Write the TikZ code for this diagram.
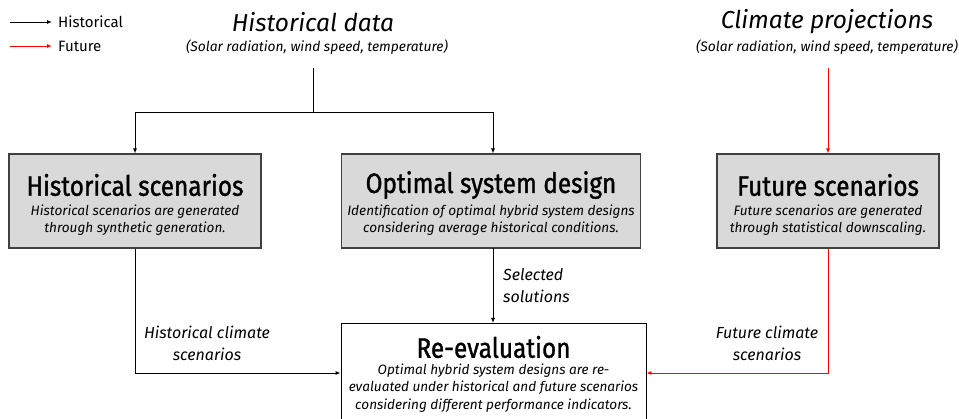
\documentclass[tikz,border=0pt]{standalone}
\usepackage{fontspec}
\setmainfont{Fira Sans}
\newfontfamily\titlefont{Fira Sans}[FakeStretch=0.87,FakeBold=1.2]
\usetikzlibrary{arrows.meta}
\definecolor{boxgray}{HTML}{D9D9D9}
\definecolor{edgegray}{HTML}{404040}
\definecolor{futred}{HTML}{FF0000}
\tikzset{
  greybox/.style={draw=edgegray,line width=1.1pt,fill=boxgray,inner sep=0pt},
  whitebox/.style={draw=black,line width=0.9pt,fill=white,inner sep=0pt},
  conn/.style={line width=0.9pt,-{Latex[length=5pt,width=4pt]}},
  plainline/.style={line width=0.9pt},
  titletxt/.style={font=\titlefont\fontsize{28}{30}\selectfont,inner sep=0pt,anchor=center},
  desctxt/.style={font=\itshape\fontsize{13.6}{17.5}\selectfont,align=center,inner sep=0pt,anchor=center},
  headtxt/.style={font=\itshape\fontsize{24.5}{28}\selectfont,inner sep=0pt,anchor=center},
  subtxt/.style={font=\itshape\fontsize{13.8}{15}\selectfont,inner sep=0pt,anchor=center},
  labtxt/.style={font=\itshape\fontsize{16}{22}\selectfont,align=center,inner sep=0pt,anchor=center},
  legtxt/.style={font=\fontsize{15}{17}\selectfont,inner sep=0pt,anchor=west}
}
\begin{document}
\begin{tikzpicture}[x=1pt,y=-1pt]
\useasboundingbox (0,0) rectangle (959,419);
% legend
\coordinate (l1a) at (10,22); \coordinate (l1b) at (52,22);
\coordinate (l2a) at (10,46); \coordinate (l2b) at (52,46);
\draw[conn] (l1a) -- (l1b);
\draw[conn,futred] (l2a) -- (l2b);
\node[legtxt] (leg1) at (58,22) {Historical};
\node[legtxt] (leg2) at (58,46) {Future};
% headings
\node[headtxt] (hd) at (313,22) {Historical data};
\node[subtxt] (hdsub) at (317,47) {(Solar radiation, wind speed, temperature)};
\node[headtxt] (cp) at (827,22) {Climate projections};
\node[subtxt] (cpsub) at (827,47) {(Solar radiation, wind speed, temperature)};
% boxes
\node[greybox,minimum width=252pt,minimum height=94pt] (hs) at (135,201) {};
\node[titletxt] (hst) at (135,185) {Historical scenarios};
\node[desctxt] (hsd) at (135,220) {Historical scenarios are generated\\through synthetic generation.};
\node[greybox,minimum width=299pt,minimum height=94pt] (os) at (491,201) {};
\node[titletxt] (ost) at (491,185) {Optimal system design};
\node[desctxt] (osd) at (491,220) {Identification of optimal hybrid system designs\\considering average historical conditions.};
\node[greybox,minimum width=222pt,minimum height=94pt] (fs) at (828,201) {};
\node[titletxt] (fst) at (828,185) {Future scenarios};
\node[desctxt] (fsd) at (828,220) {Future scenarios are generated\\through statistical downscaling.};
\node[whitebox,minimum width=305pt,minimum height=96pt] (re) at (493.5,371) {};
\node[titletxt] (ret) at (493.5,347) {Re-evaluation};
\node[desctxt] (red) at (493.5,388) {Optimal hybrid system designs are re-\\evaluated under historical and future scenarios\\considering different performance indicators.};
% connectors
\coordinate (hdtop) at (313,68);
\coordinate (hdj) at (313,112);
\coordinate (jl) at (135,112);
\coordinate (jr) at (493,112);
\draw[plainline] (hdtop) -- (hdj);
\draw[conn] (hdj) -- (jl) -- (hs.north);
\draw[conn] (hdj) -- (jr) -- (jr |- os.north);
\coordinate (cptop) at (828,68);
\draw[conn,futred] (cptop) -- (fs.north);
\draw[conn] (hs.south) |- (re.west |- 0,373);
\draw[conn] (493,248) -- (493,323);
\draw[conn,futred] (fs.south) |- (re.east |- 0,373);
% labels
\node[labtxt] (l1) at (207,343) {Historical climate\\scenarios};
\node[labtxt,align=left,anchor=west] (l2) at (503,286) {Selected\\solutions};
\node[labtxt] (l3) at (767,343) {Future climate\\scenarios};
\end{tikzpicture}
\end{document}
